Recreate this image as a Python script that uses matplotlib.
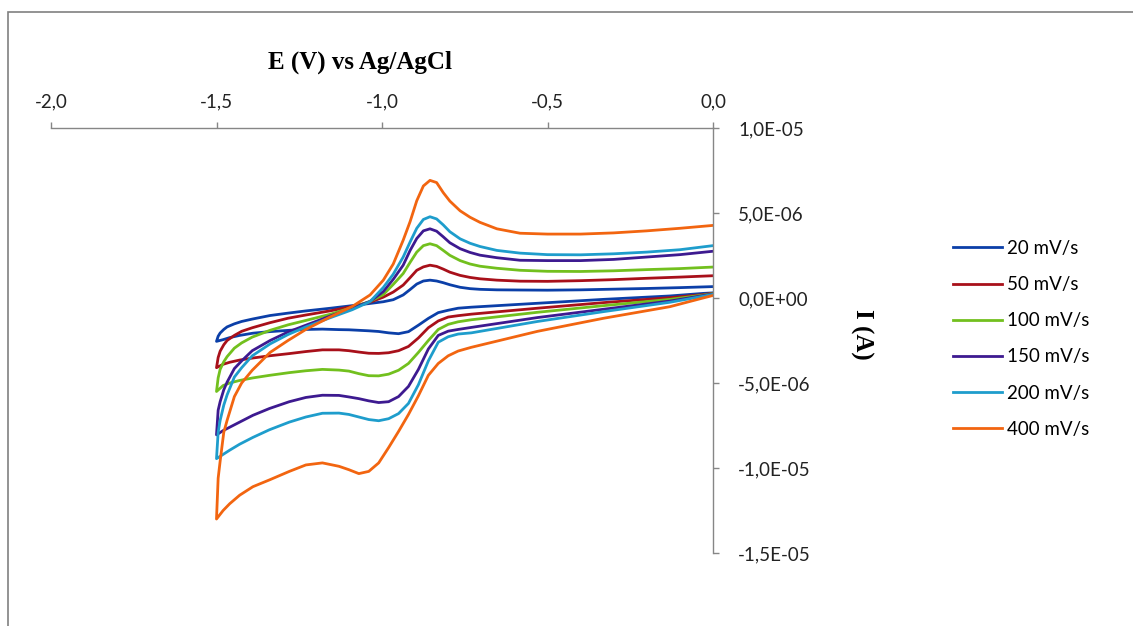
import numpy as np
import matplotlib
matplotlib.use('Agg')
import matplotlib.pyplot as plt
from matplotlib.ticker import FuncFormatter, MultipleLocator
from matplotlib.patches import Rectangle

# potential grid, forward sweep (0 -> -1.5 V) and return sweep (-1.5 -> 0 V)
E_FWD = [0.0, -0.03, -0.13, -0.33, -0.53, -0.73, -0.77, -0.80, -0.83, -0.86,
         -0.89, -0.92, -0.95, -0.98, -1.01, -1.04, -1.07, -1.10, -1.13, -1.18,
         -1.23, -1.28, -1.34, -1.39, -1.43, -1.46, -1.48, -1.50]
E_REV = [-1.495, -1.489, -1.478, -1.468, -1.446, -1.424, -1.392, -1.338, -1.284, -1.230,
         -1.155, -1.090, -1.036, -0.996, -0.966, -0.936, -0.915, -0.895, -0.875, -0.855,
         -0.835, -0.815, -0.795, -0.764, -0.734, -0.704, -0.653, -0.583, -0.5, -0.4,
         -0.3, -0.2, -0.1, 0.0]

# current in microampere
i20_fwd = [0.3, 0.27, 0.12, -0.08, -0.31, -0.54, -0.6, -0.72, -0.86, -1.2,
           -1.6, -1.98, -2.1, -2.05, -1.97, -1.93, -1.9, -1.87, -1.86, -1.83,
           -1.85, -1.9, -1.98, -2.07, -2.2, -2.33, -2.45, -2.55]
i20_rev = [-2.25, -2.06, -1.85, -1.7, -1.52, -1.38, -1.24, -1.03, -0.89, -0.76,
           -0.6, -0.45, -0.32, -0.22, -0.1, 0.18, 0.5, 0.82, 1.0, 1.05,
           1.0, 0.9, 0.78, 0.63, 0.55, 0.51, 0.48, 0.47, 0.46, 0.48,
           0.52, 0.56, 0.61, 0.67]

i50_fwd = [0.28, 0.2, 0.02, -0.27, -0.6, -0.95, -1.04, -1.12, -1.35, -1.75,
           -2.35, -2.85, -3.1, -3.22, -3.26, -3.25, -3.18, -3.1, -3.05, -3.05,
           -3.15, -3.27, -3.4, -3.53, -3.65, -3.78, -3.9, -4.1]
i50_rev = [-3.5, -3.13, -2.75, -2.5, -2.2, -1.96, -1.75, -1.45, -1.19, -1.0,
           -0.75, -0.5, -0.25, 0.05, 0.35, 0.76, 1.2, 1.63, 1.83, 1.93,
           1.86, 1.7, 1.52, 1.33, 1.21, 1.13, 1.05, 0.99, 0.98, 1.02,
           1.08, 1.16, 1.23, 1.31]

i100_fwd = [0.26, 0.17, -0.08, -0.45, -0.84, -1.28, -1.4, -1.55, -1.85, -2.5,
            -3.2, -3.85, -4.25, -4.48, -4.58, -4.57, -4.45, -4.3, -4.24, -4.2,
            -4.28, -4.39, -4.55, -4.7, -4.85, -5.0, -5.15, -5.5]
i100_rev = [-4.7, -4.2, -3.75, -3.45, -2.95, -2.64, -2.3, -1.9, -1.58, -1.32,
            -0.95, -0.55, -0.2, 0.2, 0.8, 1.44, 2.1, 2.7, 3.08, 3.19,
            3.08, 2.8, 2.51, 2.2, 2.0, 1.87, 1.75, 1.63, 1.57, 1.56,
            1.6, 1.67, 1.73, 1.82]

i150_fwd = [0.24, 0.14, -0.18, -0.66, -1.15, -1.73, -1.85, -1.95, -2.2, -3.0,
            -4.2, -5.2, -5.8, -6.1, -6.15, -6.05, -5.92, -5.82, -5.73, -5.72,
            -5.85, -6.1, -6.5, -6.9, -7.3, -7.6, -7.8, -8.05]
i150_rev = [-6.6, -6.1, -5.4, -4.95, -4.15, -3.7, -3.1, -2.5, -2.0, -1.6,
            -1.05, -0.6, -0.2, 0.38, 1.1, 1.93, 2.8, 3.5, 3.95, 4.07,
            3.93, 3.6, 3.25, 2.9, 2.68, 2.52, 2.37, 2.22, 2.2, 2.2,
            2.27, 2.41, 2.55, 2.75]

i200_fwd = [0.22, 0.1, -0.25, -0.8, -1.38, -2.05, -2.12, -2.28, -2.6, -3.7,
            -5.1, -6.2, -6.8, -7.1, -7.22, -7.15, -7.0, -6.85, -6.77, -6.78,
            -7.0, -7.3, -7.75, -8.2, -8.6, -8.95, -9.2, -9.45]
i200_rev = [-7.9, -7.2, -6.3, -5.7, -4.65, -4.1, -3.4, -2.7, -2.15, -1.7,
            -1.15, -0.69, -0.21, 0.62, 1.4, 2.41, 3.3, 4.1, 4.62, 4.78,
            4.65, 4.3, 3.9, 3.48, 3.22, 3.03, 2.8, 2.64, 2.55, 2.54,
            2.6, 2.7, 2.84, 3.08]

i400_fwd = [0.15, 0.0, -0.51, -1.19, -1.96, -2.9, -3.12, -3.4, -3.85, -4.55,
            -5.75, -6.85, -7.85, -8.8, -9.7, -10.2, -10.33, -10.1, -9.9, -9.7,
            -9.82, -10.2, -10.7, -11.1, -11.6, -12.1, -12.5, -13.0]
i400_rev = [-10.6, -9.6, -7.9, -7.2, -5.8, -5.0, -4.25, -3.2, -2.5, -1.85,
            -1.1, -0.5, 0.18, 1.05, 2.0, 3.4, 4.5, 5.72, 6.59, 6.92,
            6.79, 6.2, 5.7, 5.13, 4.75, 4.45, 4.07, 3.81, 3.76, 3.76,
            3.83, 3.95, 4.1, 4.27]

labels = ['20 mV/s', '50 mV/s', '100 mV/s', '150 mV/s', '200 mV/s', '400 mV/s']
colors = ['#0B3FA8', '#A8101A', '#72C01E', '#3D1A90', '#1E9DCC', '#F26510']
fwd = [i20_fwd, i50_fwd, i100_fwd, i150_fwd, i200_fwd, i400_fwd]
rev = [i20_rev, i50_rev, i100_rev, i150_rev, i200_rev, i400_rev]

W, H = 1133, 626
fig = plt.figure(figsize=(W / 100, H / 100), dpi=100)
ax = fig.add_axes([51 / W, 1 - 553 / H, 662 / W, 425 / H])

for f, r, c, lab in zip(fwd, rev, colors, labels):
    e = np.array(E_FWD + E_REV)
    i = np.array(f + r) * 1e-6
    ax.plot(e, i, color=c, lw=2.0, label=lab, solid_joinstyle='round')

ax.set_xlim(-2.0, 0.0)
ax.set_ylim(-1.5e-5, 1.0e-5)
ax.xaxis.set_major_locator(MultipleLocator(0.5))
ax.yaxis.set_major_locator(MultipleLocator(5e-6))
ax.xaxis.set_major_formatter(FuncFormatter(lambda v, _: f"{v:.1f}".replace('.', ',')))
ax.yaxis.set_major_formatter(FuncFormatter(lambda v, _: f"{v:.1E}".replace('.', ',')))

axis_col = '#868686'
for s in ['bottom', 'left']:
    ax.spines[s].set_visible(False)
for s in ['top', 'right']:
    ax.spines[s].set_color(axis_col)
    ax.spines[s].set_linewidth(1.0)
ax.xaxis.tick_top()
ax.yaxis.tick_right()
tick_font = 'Lato'
ax.tick_params(axis='x', direction='out', length=4, width=1, color=axis_col, pad=9,
               labelsize=13.5, labelcolor='#222222')
ax.tick_params(axis='y', direction='out', length=4, width=1, color=axis_col, pad=14,
               labelsize=13.5, labelcolor='#222222')
for t in ax.get_xticklabels() + ax.get_yticklabels():
    t.set_fontfamily(tick_font)
ax.patch.set_alpha(0)

fig.text(360 / W, 1 - 62 / H, 'E (V) vs Ag/AgCl', ha='center', va='center',
         fontsize=18, fontweight='bold', family='Liberation Serif')
fig.text(862 / W, 1 - 334 / H, 'I (A)', ha='center', va='center', rotation=270,
         fontsize=18, fontweight='bold', family='Liberation Serif')

leg = fig.legend(loc='upper left', bbox_to_anchor=(953 / W, 1 - 240 / H), frameon=False,
                 borderpad=0, borderaxespad=0, handlelength=2.6, handletextpad=0.3,
                 labelspacing=1.02, prop={'family': tick_font, 'size': 13.5})

fig.add_artist(Rectangle((8 / W, -0.1), 2, 1.1 - 12 / H, transform=fig.transFigure,
                         fill=False, edgecolor='#808080', lw=1.2))

fig.savefig('out.png', dpi=100)
